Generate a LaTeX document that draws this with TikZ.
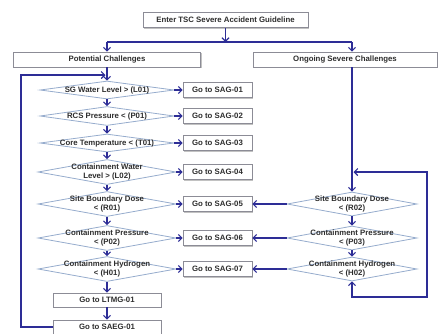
\documentclass[tikz,border=0pt]{standalone}
\usepackage{fontspec}
\setmainfont{Liberation Sans}
\usetikzlibrary{arrows.meta,shapes.geometric,shadows}
\definecolor{navy}{RGB}{45,45,150}
\definecolor{boxline}{RGB}{140,140,150}
\definecolor{dialine}{RGB}{150,172,205}
\definecolor{txt}{RGB}{45,45,45}
\begin{document}
\begin{tikzpicture}[x=1pt,y=-1pt,
  font=\fontsize{7.8}{9.5}\selectfont\bfseries, text=txt,
  box/.style={draw=boxline, line width=0.8pt, fill=white, rectangle, inner sep=0pt, minimum height=15pt,
    drop shadow={shadow xshift=1.2pt, shadow yshift=-1.2pt, fill=black!40, opacity=0.6}},
  dia/.style={draw=dialine, line width=0.8pt, fill=white, diamond, shape aspect=6, inner xsep=-22pt, inner ysep=-2pt, align=center},
  arr/.style={draw=navy, line width=1.1pt, -{Straight Barb[length=3.5pt,width=7pt]}},
  arrboth/.style={draw=navy, line width=1.1pt, {Straight Barb[length=3.5pt,width=7pt]}-{Straight Barb[length=3.5pt,width=7pt]}},
  plain/.style={draw=navy, line width=1.1pt},
]
\useasboundingbox (0,0) rectangle (439,333);

% top
\node[box, minimum width=165pt] (enter) at (225.5,20) {Enter TSC Severe Accident Guideline};
\node[box, minimum width=187pt] (pot) at (107,59.5) {Potential Challenges};
\node[box, minimum width=184pt] (ong) at (345,59.5) {Ongoing Severe Challenges};

% left column
\node[dia, minimum width=134pt, minimum height=18pt] (d1) at (107,90) {SG Water Level > (L01)};
\node[dia, minimum width=134pt, minimum height=19pt] (d2) at (107,116) {RCS Pressure < (P01)};
\node[dia, minimum width=134pt, minimum height=18pt] (d3) at (107,143) {Core Temperature < (T01)};
\node[dia, minimum width=138pt, minimum height=25pt] (d4) at (107,172) {Containment Water\\Level > (L02)};
\node[dia, minimum width=138pt, minimum height=25pt] (d5) at (107,204) {Site Boundary Dose\\< (R01)};
\node[dia, minimum width=138pt, minimum height=25pt] (d6) at (107,238) {Containment Pressure\\< (P02)};
\node[dia, minimum width=138pt, minimum height=25pt] (d7) at (107,269) {Containment Hydrogen\\< (H01)};
\node[box, minimum width=108pt, minimum height=14pt] (ltmg) at (107,300) {Go to LTMG-01};
\node[box, minimum width=108pt, minimum height=14pt] (saeg) at (107,327) {Go to SAEG-01};

% middle column
\node[box, minimum width=69pt] (s1) at (217.5,90) {Go to SAG-01};
\node[box, minimum width=69pt] (s2) at (217.5,116) {Go to SAG-02};
\node[box, minimum width=69pt] (s3) at (217.5,143) {Go to SAG-03};
\node[box, minimum width=69pt] (s4) at (217.5,172) {Go to SAG-04};
\node[box, minimum width=69pt] (s5) at (217.5,204) {Go to SAG-05};
\node[box, minimum width=69pt] (s6) at (217.5,238) {Go to SAG-06};
\node[box, minimum width=69pt] (s7) at (217.5,269) {Go to SAG-07};

% right column
\node[dia, minimum width=130pt, minimum height=24pt] (r02) at (352,204) {Site Boundary Dose\\< (R02)};
\node[dia, minimum width=130pt, minimum height=24pt] (p03) at (352,238) {Containment Pressure\\< (P03)};
\node[dia, minimum width=130pt, minimum height=24pt] (h02) at (352,269) {Containment Hydrogen\\< (H02)};

% coordinates
\coordinate (tj) at (225.5,42);
\coordinate (lj) at (107,42);
\coordinate (rj) at (352,42);
\coordinate (lt) at (21,75);
\coordinate (le) at (105.5,75);
\coordinate (rt) at (353.5,172);
\coordinate (rc) at (427,297);

% connectors top
\draw[arr] (enter.south) -- (tj);
\draw[plain] (lj) -- (rj);
\draw[arr] (lj) -- (pot.north);
\draw[arr] (rj) -- (rj |- ong.north);
\draw[arr] (rj |- ong.south) -- (r02.north);

% left chain
\draw[arr] (pot.south) -- (d1.north);
\draw[arr] (d1.south) -- (d2.north);
\draw[arr] (d2.south) -- (d3.north);
\draw[arr] (d3.south) -- (d4.north);
\draw[arr] (d4.south) -- (d5.north);
\draw[arr] (d5.south) -- (d6.north);
\draw[arr] (d6.south) -- (d7.north);
\draw[arr] (d7.south) -- (ltmg.north);
\draw[arr] (ltmg.south) -- (saeg.north);

% to SAG boxes
\draw[arr] (d1.east) -- (s1.west);
\draw[arr] (d2.east) -- (s2.west);
\draw[arr] (d3.east) -- (s3.west);
\draw[arr] (d4.east) -- (s4.west);
\draw[arr] (d5.east) -- (s5.west);
\draw[arr] (d6.east) -- (s6.west);
\draw[arr] (d7.east) -- (s7.west);
\draw[arr] (r02.west) -- (s5.east);
\draw[arr] (p03.west) -- (s6.east);
\draw[arr] (h02.west) -- (s7.east);

% right chain
\draw[arr] (r02.south) -- (p03.north);
\draw[arr] (p03.south) -- (h02.north);

% loops
\draw[arr] (saeg.west) -| (lt) -- (le);
\draw[arrboth] (rt) -| (rc) -| (h02.south);
\end{tikzpicture}
\end{document}
